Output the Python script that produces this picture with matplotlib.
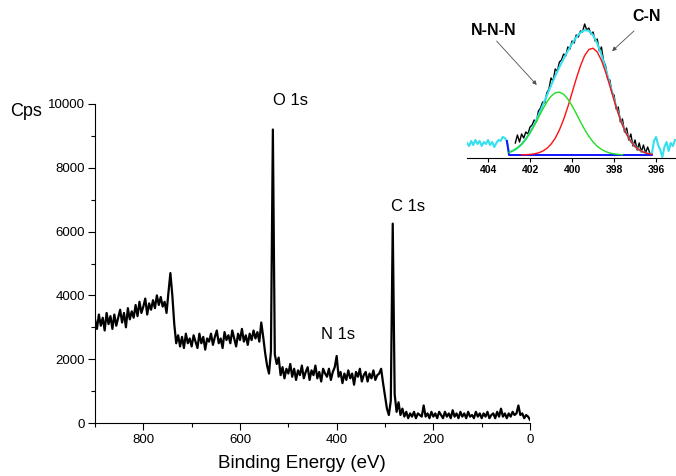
import numpy as np
import matplotlib.pyplot as plt
from matplotlib.ticker import MultipleLocator

plt.rcParams['font.family'] = ['Liberation Sans', 'DejaVu Sans']

# survey spectrum, 900 -> 0 eV in 4 eV steps
energy = np.arange(900, -1, -4)
cps = [
    3250, 2950, 3400, 3050, 3300, 2900, 3450, 3100, 3350, 2950,
    3400, 3050, 3300, 3550, 3150, 3450, 3000, 3600, 3250, 3500,
    3300, 3700, 3350, 3800, 3450, 3650, 3900, 3400, 3750, 3550,
    3850, 3600, 4000, 3700, 3950, 3650, 3800, 3450, 4100, 4700,
    4000, 3100, 2500, 2750, 2400, 2700, 2350, 2800, 2500, 2650,
    2400, 2750, 2550, 2350, 2800, 2500, 2700, 2300, 2650, 2550,
    2800, 2450, 2700, 2900, 2500, 2650, 2350, 2850, 2600, 2750,
    2500, 2900, 2650, 2400, 2800, 2600, 2950, 2550, 2750, 2450,
    2800, 2600, 2900, 2650, 2850, 2550, 3150, 2700, 2200, 1800,
    1550, 2250, 9200, 2150, 1850, 2050, 1500, 1750, 1400, 1700,
    1550, 1850, 1450, 1700, 1350, 1650, 1500, 1800, 1400, 1600,
    1750, 1350, 1650, 1500, 1800, 1400, 1600, 1300, 1700, 1550,
    1450, 1700, 1350, 1600, 1750, 2100, 1450, 1600, 1250, 1550,
    1350, 1650, 1400, 1550, 1200, 1600, 1450, 1700, 1300, 1500,
    1600, 1300, 1550, 1400, 1650, 1350, 1500, 1550, 1700, 1250,
    850, 450, 250, 700, 6250, 900, 350, 650, 250, 450,
    200, 350, 150, 300, 200, 350, 150, 300, 250, 200,
    550, 200, 300, 150, 350, 200, 300, 150, 350, 250,
    150, 350, 200, 300, 150, 400, 200, 300, 150, 350,
    200, 300, 150, 350, 200, 250, 150, 350, 200, 300,
    150, 300, 200, 350, 150, 250, 300, 150, 350, 200,
    450, 200, 300, 150, 300, 200, 350, 250, 300, 550,
    250, 300, 150, 250, 200, 100,
]

# N 1s high resolution inset
raw_e = np.linspace(402.7, 396.3, 65)
raw = [12, 20, 13, 21, 17, 23, 21, 28, 30, 35,
       33, 44, 47, 53, 52, 62, 66, 77, 74, 86,
       84, 93, 95, 101, 99, 108, 106, 114, 112, 120,
       118, 124, 123, 131, 125, 127, 121, 123, 114, 116,
       104, 108, 94, 89, 76, 75, 62, 60, 46, 48,
       33, 36, 23, 27, 15, 21, 9, 15, 5, 12,
       3, 10, 2, 8, 2]

left_e = np.linspace(405.0, 403.1, 20)
left_tail = [12, 9, 14, 10, 15, 11, 14, 9, 13, 11,
             15, 10, 13, 8, 12, 15, 14, 18, 17, 14]
right_e = np.linspace(396.1, 395.1, 11)
right_tail = [14, 18, 10, 5, -2, 8, 13, 4, 12, 9, 15]

fit_e = np.linspace(403.0, 396.2, 35)
envelope = [2.6, 4.4, 7.0, 10.8, 16.0, 22.6, 30.4, 39.5, 49.3, 59.5,
            69.5, 79.0, 88.0, 96.3, 104.1, 111.3, 117.7, 122.4, 124.9, 124.2,
            119.9, 111.7, 100.3, 86.3, 71.2, 56.1, 42.2, 30.4, 20.8, 13.6,
            8.4, 5.0, 2.9, 1.5, 0.8]
nnn = [2.6, 4.4, 7.0, 10.7, 15.7, 22.0, 29.3, 37.4, 45.5, 52.9,
       58.7, 62.2, 62.9, 60.7, 56.0, 49.3, 41.5, 33.3, 25.5, 18.7,
       13.1, 8.7, 5.6, 3.4, 2.0, 1.1, 0.6, 0.3]
cn = [0.1, 0.3, 0.6, 1.1, 2.1, 3.8, 6.6, 10.8, 16.8, 25.1,
      35.6, 48.1, 62.0, 76.2, 89.1, 99.4, 105.5, 106.8, 103.0, 94.7,
      82.9, 69.2, 55.0, 41.6, 30.1, 20.7, 13.6, 8.4, 5.0, 2.9,
      1.5, 0.8]
base_e = [403.1, 403.0, 396.2]
base = [14, 0, 0]

fig = plt.figure(figsize=(6.76, 4.76), dpi=100)

ax = fig.add_axes([95/676, 1-423/476, 435/676, 319/476])
ax.plot(energy, cps, color='black', lw=1.6)
ax.set_xlim(900, 0)
ax.set_ylim(0, 10000)
ax.spines['top'].set_visible(False)
ax.spines['right'].set_visible(False)
ax.spines['left'].set_linewidth(0.8)
ax.spines['bottom'].set_linewidth(0.8)
ax.xaxis.set_major_locator(MultipleLocator(200))
ax.xaxis.set_minor_locator(MultipleLocator(100))
ax.yaxis.set_major_locator(MultipleLocator(2000))
ax.yaxis.set_minor_locator(MultipleLocator(1000))
ax.tick_params(which='major', direction='out', length=5, width=0.8, labelsize=9.5, pad=2)
ax.tick_params(which='minor', direction='out', length=3, width=0.8)
ax.tick_params(axis='x', which='major', pad=3)
ax.set_xlabel('Binding Energy (eV)', fontsize=13.5)
ax.xaxis.set_label_coords(0.475, -0.1)

ax.text(532, 10125, 'O 1s', fontsize=12, ha='left', va='center')
ax.text(287, 6790, 'C 1s', fontsize=12, ha='left', va='center')
ax.text(432, 2780, 'N 1s', fontsize=12, ha='left', va='center')
fig.text(10/676, 1-112/476, 'Cps', fontsize=13, ha='left', va='center')

ins = fig.add_axes([467/676, 1-158/476, 209/676, 148/476])
ins.set_facecolor('none')
ins.plot(raw_e, raw, color='black', lw=1.0)
ins.plot(np.concatenate([left_e, fit_e, right_e]),
         np.concatenate([left_tail, envelope, right_tail]),
         color='#33E0F0', lw=1.5)
ins.plot(base_e, base, color='#1515FF', lw=1.4)
ins.plot(fit_e[3:], cn, color='#FF1010', lw=1.0)
ins.plot(fit_e[:28], nnn, color='#22DD22', lw=1.0)
ins.set_xlim(405, 395.05)
ins.set_ylim(-3, 145)
for s in ['top', 'left', 'right']:
    ins.spines[s].set_visible(False)
ins.spines['bottom'].set_linewidth(0.8)
ins.set_yticks([])
ins.set_xticks([404, 402, 400, 398, 396])
ins.tick_params(axis='x', direction='out', length=3, width=0.8, labelsize=7.5, pad=2)
for lab in ins.get_xticklabels():
    lab.set_fontweight('bold')

ins.text(403.75, 124, 'N-N-N', fontsize=11.5, fontweight='bold', ha='center', va='center')
ins.text(396.44, 138, 'C-N', fontsize=11.5, fontweight='bold', ha='center', va='center')
arrow = dict(arrowstyle='-|>', color='0.3', lw=0.6, mutation_scale=6)
ins.annotate('', xy=(401.59, 68), xytext=(403.68, 116), arrowprops=arrow)
ins.annotate('', xy=(398.19, 102), xytext=(396.95, 126), arrowprops=arrow)

fig.savefig('out.png', dpi=100)
